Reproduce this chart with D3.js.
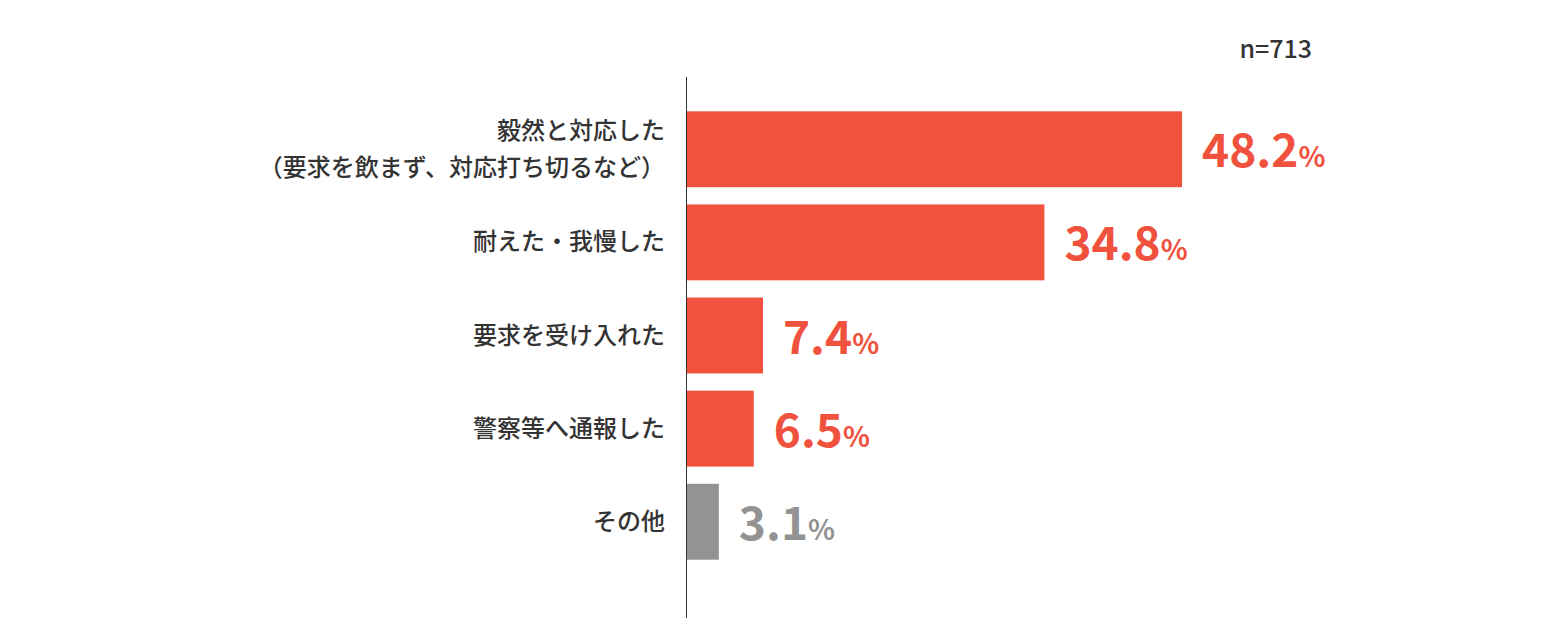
<!DOCTYPE html>
<html><head><meta charset="utf-8">
<script src="https://cdn.jsdelivr.net/npm/d3@7"></script>
<style>body{margin:0;background:#fff}</style></head><body>
<script>
const categories=[["毅然と対応した","（要求を飲まず、対応打ち切るなど）"],["耐えた・我慢した"],["要求を受け入れた"],["警察等へ通報した"],["その他"]];
const values=[48.2,34.8,7.4,6.5,3.1];
const colors=["#F0523E","#F0523E","#F0523E","#F0523E","#939393"];
const note="n=713";
const W=1560,H=642;
const svg=d3.select("body").append("svg").attr("width",W).attr("height",H);
const font="'Noto Sans CJK JP','Noto Sans',sans-serif";
const x=d3.scaleLinear().domain([0,100]).range([687,1714]);
const y=d3.scaleBand().domain(d3.range(values.length)).range([102,569]).paddingInner(0.185).paddingOuter(0.1);
svg.append("line").attr("x1",686.5).attr("x2",686.5).attr("y1",77).attr("y2",618).attr("stroke","#333").attr("stroke-width",1);
svg.selectAll("rect").data(values).join("rect")
 .attr("x",x(0)).attr("y",(d,i)=>y(i)).attr("width",d=>x(d)-x(0)).attr("height",y.bandwidth()).attr("fill",(d,i)=>colors[i]);
categories.forEach((lines,i)=>{
  const cy=y(i)+y.bandwidth()/2;
  const t=svg.append("text").attr("text-anchor","end").attr("font-family",font).attr("font-weight",500).attr("font-size",24).attr("fill","#333");
  lines.forEach((l,k)=>{
    t.append("tspan").attr("x",665).attr("y",cy+8+(k-(lines.length-1)/2)*37).text(l);
  });
  const v=svg.append("text").attr("x",x(values[i])+20).attr("y",cy+18).attr("font-family",font).attr("font-weight",700).attr("fill",colors[i]);
  v.append("tspan").attr("font-size",46).text(values[i].toFixed(1));
  v.append("tspan").attr("font-size",28).text("%");
});
svg.append("text").attr("x",1312).attr("y",58).attr("text-anchor","end").attr("font-family",font).attr("font-weight",500).attr("font-size",25).attr("fill","#333").text(note);
</script></body></html>
